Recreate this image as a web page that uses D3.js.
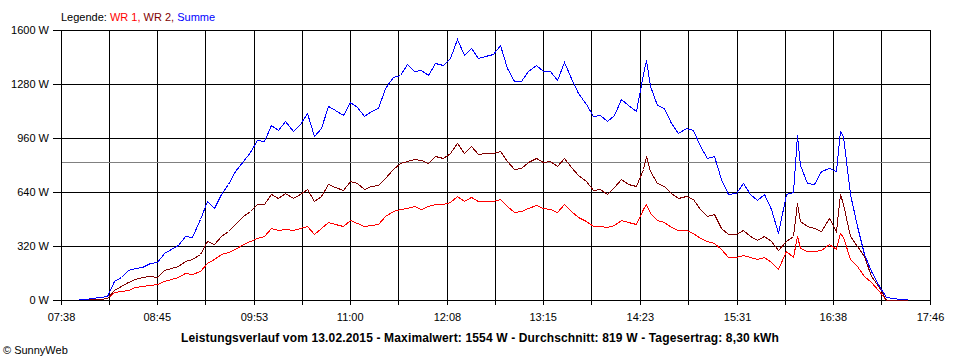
<!DOCTYPE html>
<html><head><meta charset="utf-8">
<script src="https://cdn.jsdelivr.net/npm/d3@7"></script>
<style>
html,body{margin:0;padding:0;background:#fff;}
svg{display:block;font-family:"Liberation Sans",Arial,sans-serif;}
</style></head>
<body>
<script>
// ---- data ----
const times = ["07:50","07:55","08:00","08:05","08:10","08:15","08:20","08:25","08:30","08:35","08:40","08:45","08:50","08:55","09:00","09:05","09:10","09:15","09:20","09:25","09:30","09:35","09:40","09:45","09:50","09:55","10:00","10:05","10:10","10:15","10:20","10:25","10:30","10:35","10:40","10:45","10:50","10:55","11:00","11:05","11:10","11:15","11:20","11:25","11:30","11:35","11:40","11:45","11:50","11:55","12:00","12:05","12:10","12:15","12:20","12:25","12:30","12:35","12:40","12:45","12:50","12:55","13:00","13:05","13:10","13:15","13:20","13:25","13:30","13:35","13:40","13:45","13:50","13:55","14:00","14:05","14:10","14:15","14:20","14:25","14:27","14:30","14:35","14:40","14:45","14:50","14:55","15:00","15:05","15:10","15:15","15:20","15:25","15:30","15:35","15:40","15:45","15:50","15:55","16:00","16:05","16:10","16:13","16:15","16:20","16:25","16:30","16:35","16:40","16:43","16:45","16:50","16:55","17:00","17:05","17:10","17:15","17:20","17:25","17:30"];
const wr1 = [3,4,6,8,12,45,55,61,75,81,89,95,114,124,134,158,154,173,222,242,272,282,301,331,350,370,380,425,413,419,413,429,439,394,429,465,453,439,472,459,439,445,453,498,528,538,547,557,537,557,567,571,583,618,587,610,587,587,587,597,557,524,528,547,561,547,541,524,567,528,490,468,439,439,433,447,476,465,449,541,567,518,473,465,433,413,413,400,366,347,335,301,256,252,268,252,242,252,226,183,291,252,380,311,288,291,295,331,301,400,374,242,203,144,104,55,0,0,0,0];
const wr2 = [3,4,6,8,12,60,85,104,124,134,144,138,177,189,203,232,242,272,350,331,380,410,449,498,528,567,567,630,606,636,606,626,656,587,616,685,669,650,705,695,656,675,681,725,774,813,823,833,827,813,853,843,872,928,872,912,866,872,872,882,823,774,784,819,839,819,823,793,843,788,740,705,650,656,630,669,715,689,675,774,853,764,695,675,636,606,616,597,538,498,508,429,390,390,413,380,354,380,347,296,350,380,577,469,437,429,410,488,410,626,567,380,321,262,144,75,0,0,0,0];
const summe = [6,8,12,16,24,110,134,180,189,197,222,228,280,301,327,380,374,478,587,547,626,685,764,823,878,951,941,1040,1010,1059,1000,1044,1108,971,1020,1148,1128,1099,1174,1142,1089,1122,1138,1256,1319,1335,1398,1355,1365,1331,1404,1394,1437,1548,1449,1493,1434,1444,1457,1510,1374,1296,1296,1359,1394,1355,1359,1305,1410,1317,1227,1162,1089,1095,1059,1095,1193,1158,1118,1340,1420,1266,1158,1138,1050,990,1020,1010,912,843,852,715,626,636,695,630,591,626,538,400,630,640,977,800,695,685,764,784,764,1000,971,626,439,272,173,85,16,12,8,4];
const xTickLabels = ["07:38","08:45","09:53","11:00","12:08","13:15","14:23","15:31","16:38","17:46"];
const yTicks = [0,320,640,960,1280,1600];
const average = 819;
const titleText = "Leistungsverlauf vom 13.02.2015 - Maximalwert: 1554 W - Durchschnitt: 819 W - Tagesertrag: 8,30 kWh";

// ---- drawing ----
const W = 960, H = 360;
const toMin = s => { const [h,m] = s.split(":").map(Number); return h*60+m; };
const x = d3.scaleLinear().domain([toMin(xTickLabels[0]), toMin(xTickLabels[xTickLabels.length-1])]).range([61, 930]);
const y = d3.scaleLinear().domain([0,1600]).range([300, 30]);
const px = v => Math.round(v) + 0.5;

const svg = d3.select("body").append("svg").attr("width", W).attr("height", H);

// legend
const leg = svg.append("text").attr("x", 61).attr("y", 21).attr("font-size", 11);
leg.append("tspan").attr("fill","#000").text("Legende: ");
leg.append("tspan").attr("fill","#ff0000").text("WR 1, ");
leg.append("tspan").attr("fill","#800000").text("WR 2, ");
leg.append("tspan").attr("fill","#0000ff").text("Summe");

// vertical grid + ticks (major and half)
const majors = xTickLabels.map(toMin);
const vLines = [];
majors.forEach((m,i) => { vLines.push(m); if (i < majors.length-1) vLines.push((m + majors[i+1]) / 2); });
const g = svg.append("g").attr("shape-rendering","crispEdges");
g.selectAll(".v").data(vLines).enter().append("line")
  .attr("x1", d => px(x(d))).attr("x2", d => px(x(d)))
  .attr("y1", y(1600)).attr("y2", y(0) + 5)
  .attr("stroke", "#000").attr("stroke-width", 1);
g.selectAll(".h").data(yTicks).enter().append("line")
  .attr("x1", 53).attr("x2", x.range()[1] + 1)
  .attr("y1", d => px(y(d))).attr("y2", d => px(y(d)))
  .attr("stroke", "#000").attr("stroke-width", 1);
// average line
g.append("line").attr("x1", x.range()[0]+1).attr("x2", x.range()[1])
  .attr("y1", px(y(average))).attr("y2", px(y(average)))
  .attr("stroke", "#808080").attr("stroke-width", 1);

// y labels
svg.selectAll(".yl").data(yTicks).enter().append("text")
  .attr("x", 49).attr("y", d => y(d) + 4).attr("text-anchor","end")
  .attr("font-size", 11).attr("fill","#000").text(d => d + " W");
// x labels
svg.selectAll(".xl").data(xTickLabels).enter().append("text")
  .attr("x", d => x(toMin(d)) + 0.5).attr("y", 320.5).attr("text-anchor","middle")
  .attr("font-size", 11).attr("fill","#000").text(d => d);

// series
const tm = times.map(toMin);
const line = vals => d3.line().x((d,i) => Math.round(x(tm[i]))+0.5).y(d => Math.round(y(d))+0.5)(vals);
[[wr1,"#ff0000"],[wr2,"#800000"],[summe,"#0000ff"]].forEach(([vals,col]) => {
  svg.append("path").attr("d", line(vals)).attr("fill","none")
    .attr("stroke", col).attr("stroke-width", 1).attr("shape-rendering","crispEdges");
});

// title & footer
svg.append("text").attr("x", 480).attr("y", 341.5).attr("text-anchor","middle")
  .attr("font-size", 12).attr("font-weight","bold").attr("letter-spacing", 0.15).attr("fill","#000").text(titleText);
svg.append("text").attr("x", 3).attr("y", 353.5).attr("font-size", 11).attr("fill","#000").text("© SunnyWeb");
</script>
</body></html>
